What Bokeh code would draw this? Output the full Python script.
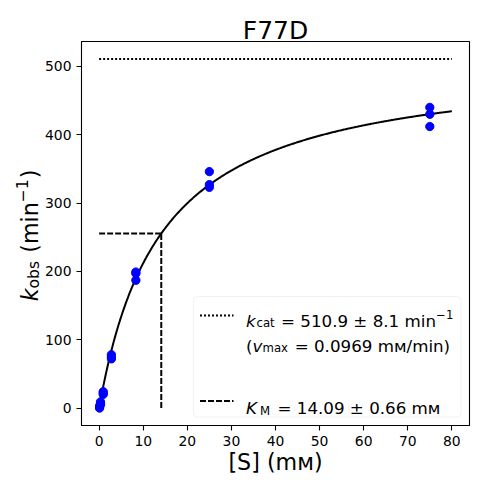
import numpy as np
from bokeh.plotting import figure
from bokeh.layouts import column, row
from bokeh.models import Range1d, FixedTicker, Label, BoxAnnotation, Arrow
from bokeh.embed import file_html
from bokeh.resources import INLINE

# ---- data ----
title_text = "F77D"
x_label = "[S] (m\u1d0d)"
S_conc = [0.1, 0.1, 0.1, 0.31, 0.31, 0.31, 0.93, 0.93, 0.93,
          2.78, 2.78, 2.78, 8.33, 8.33, 8.33, 25, 25, 25, 75, 75, 75]
k_obs = [0, 1, 3, 5, 7, 9, 20, 22, 24,
         72, 75, 78, 187, 197, 199, 323, 327, 346, 412, 430, 440]
k_cat = 510.9
k_cat_err = 8.1
v_max = 0.0969
K_M = 14.09
K_M_err = 0.66
S_fit_max = 80
x_ticks = [0, 10, 20, 30, 40, 50, 60, 70, 80]
y_ticks = [0, 100, 200, 300, 400, 500]

FONT = "DejaVu Sans"
FW, FH = 388, 384          # plot frame
YLW = 41                   # width of y-label strip
ML, MR, MT, MB = 40, 2, 2, 55   # borders of the main figure
TH = 39                    # height of title strip
TOTW = YLW + ML + FW + MR

# fitted Michaelis-Menten curve from the fitted parameters
s_fit = np.linspace(0, S_fit_max, 400)
k_fit = k_cat * s_fit / (K_M + s_fit)

xpad = 0.05 * S_fit_max
ymin = min(min(k_obs), 0)
ymax = k_cat
ypad = 0.05 * (ymax - ymin)

p = figure(frame_width=FW, frame_height=FH, output_backend="svg",
           toolbar_location=None, title=None,
           x_range=Range1d(-xpad, S_fit_max + xpad),
           y_range=Range1d(ymin - ypad, ymax + ypad),
           min_border_left=ML, min_border_right=MR,
           min_border_top=MT, min_border_bottom=MB)
p.background_fill_color = "white"
p.border_fill_color = "white"
p.outline_line_color = "black"
p.outline_line_width = 1.1
p.grid.visible = False

for ax in (p.xaxis, p.yaxis):
    ax.major_label_text_font = FONT
    ax.major_label_text_font_size = "13.9px"
    ax.major_label_text_color = "black"
    ax.major_tick_out = 5
    ax.major_tick_in = 0
    ax.major_label_standoff = 5
    ax.minor_tick_line_color = None
    ax.axis_line_color = "black"
    ax.major_tick_line_color = "black"
    ax.major_tick_line_width = 1.1
p.xaxis.ticker = FixedTicker(ticks=x_ticks)
p.yaxis.ticker = FixedTicker(ticks=y_ticks)
p.xaxis.axis_label = x_label
p.xaxis.axis_label_text_font = FONT
p.xaxis.axis_label_text_font_size = "22.2px"
p.xaxis.axis_label_text_font_style = "normal"
p.xaxis.axis_label_text_color = "black"
p.xaxis.axis_label_standoff = 0

# lines
p.line([0, S_fit_max], [k_cat, k_cat], line_color="black", line_width=2,
       line_dash="2 2")
p.line([0, K_M], [k_cat / 2, k_cat / 2], line_color="black", line_width=2,
       line_dash="6 2")
p.line([K_M, K_M], [0, k_cat / 2], line_color="black", line_width=2,
       line_dash="6 2")
p.line(s_fit, k_fit, line_color="black", line_width=2)
p.scatter(S_conc, k_obs, size=8.3, fill_color="blue", line_color="blue")


def lab(fig, x, y, text, size, style="normal", align="left", angle=0.0):
    fig.add_layout(Label(x=x, y=y, x_units="screen", y_units="screen",
                         text=text, text_font=FONT, text_font_size=size,
                         text_font_style=style, text_color="black",
                         text_align=align, text_baseline="alphabetic",
                         angle=angle))


def strip(w, h):
    f = figure(frame_width=w, frame_height=h, output_backend="svg",
               toolbar_location=None, min_border=0, title=None,
               x_range=Range1d(0, 1), y_range=Range1d(0, 1),
               x_axis_type=None, y_axis_type=None)
    f.outline_line_color = None
    f.grid.visible = False
    f.background_fill_color = "white"
    f.border_fill_color = "white"
    return f


# title strip
frame_cx = YLW + ML + FW / 2
t_fig = strip(TOTW, TH)
lab(t_fig, frame_cx, 9, title_text, "25px", align="center")

# y-label strip (rotated, composed of pieces for sub/superscripts)
y_fig = strip(YLW, MT + FH + MB)
A = np.pi / 2
Hb = TH + MT + FH + MB   # page y of the strip bottom
dx = -5.5
lab(y_fig, 35.3 + dx, Hb - 298.8, "k", "22.2px", style="italic", angle=A)
lab(y_fig, 38.9 + dx, Hb - 285.9, "obs", "15.5px", angle=A)
lab(y_fig, 35.3 + dx, Hb - 250.2, "(min", "22.2px", angle=A)
lab(y_fig, 27.3 + dx, Hb - 199.7, "\u22121", "15.5px", angle=A)
lab(y_fig, 35.3 + dx, Hb - 175.7, ")", "22.2px", angle=A)

# legend
p.add_layout(BoxAnnotation(left=112, right=379.5, bottom=8.5, top=129,
                           left_units="screen", right_units="screen",
                           top_units="screen", bottom_units="screen",
                           fill_color="white", fill_alpha=0.8,
                           line_color="#d5d5d5", line_width=1,
                           border_radius=4, level="annotation"))
p.add_layout(Arrow(x_start=118.5, y_start=110, x_end=152, y_end=110,
                   start_units="screen", end_units="screen", end=None,
                   line_color="black", line_width=2, line_dash="2 2"))
p.add_layout(Arrow(x_start=118.5, y_start=24.5, x_end=152, y_end=24.5,
                   start_units="screen", end_units="screen", end=None,
                   line_color="black", line_width=2, line_dash="6 2"))
LF, SF = "16.7px", "11.7px"
lab(p, 164.5, 105, "k", LF, style="italic")
lab(p, 175, 102.3, "cat", SF)
lab(p, 199.5, 105, f"= {k_cat:.1f} \u00b1 {k_cat_err:.1f} min", LF)
lab(p, 354.6, 111.4, "\u22121", SF)

lab(p, 164.5, 80, "(", LF)
lab(p, 171, 80, "v", LF, style="italic")
lab(p, 181, 77.3, "max", SF)
lab(p, 213.2, 80, f"= {v_max:.4f} m\u1d0d/min)", LF)

lab(p, 164.5, 17.7, "K", LF, style="italic")
lab(p, 178.5, 15, "M", SF)
lab(p, 196, 17.7, f"= {K_M:.2f} \u00b1 {K_M_err:.2f} m\u1d0d", LF)

layout = column(t_fig, row(y_fig, p))
open("out.html", "w").write(file_html(layout, INLINE))
